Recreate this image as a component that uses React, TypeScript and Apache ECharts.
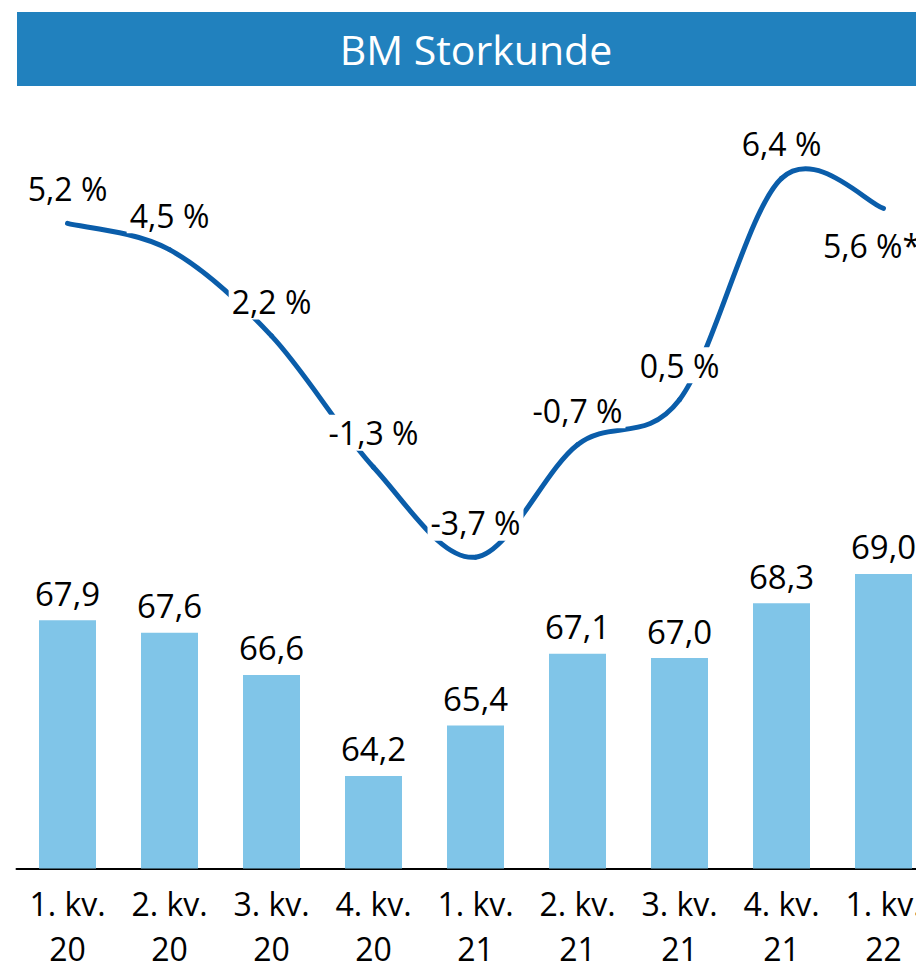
import React, { useEffect, useRef } from "react";
import * as echarts from "echarts";

const categories = [
  "1. kv.\n20",
  "2. kv.\n20",
  "3. kv.\n20",
  "4. kv.\n20",
  "1. kv.\n21",
  "2. kv.\n21",
  "3. kv.\n21",
  "4. kv.\n21",
  "1. kv.\n22",
];
const barValues = [67.9, 67.6, 66.6, 64.2, 65.4, 67.1, 67.0, 68.3, 69.0];
const growthValues = [5.2, 4.5, 2.2, -1.3, -3.7, -0.7, 0.5, 6.4, 5.6];
const growthNotes = ["", "", "", "", "", "", "", "", "*"];
const titleText = "BM Storkunde";

const FONT = "'Open Sans', 'Noto Sans', sans-serif";
const LINE_COLOR = "#0A5DAA";

export default function App() {
  const ref = useRef<HTMLDivElement>(null);
  useEffect(() => {
    if (!ref.current) return;
    const chart = echarts.init(ref.current, null, { renderer: "svg" });
    const n = growthValues.length;
    const last = n - 1;
    const clampIdx = (j: number) => Math.max(0, Math.min(n - 1, j));
    chart.setOption({
      animation: false,
      backgroundColor: "#ffffff",
      textStyle: { fontFamily: FONT },
      graphic: [
        {
          type: "rect",
          shape: { x: 17, y: 12, width: 921, height: 74 },
          style: { fill: "#2181BE" },
          z: 0,
        },
        {
          type: "text",
          x: 476,
          y: 49,
          style: {
            text: titleText,
            fill: "#ffffff",
            font: `41px ${FONT}`,
            align: "center",
            verticalAlign: "middle",
          },
          z: 1,
        },
      ],
      grid: {
        left: 16.5,
        width: 918,
        top: 100,
        height: 768.5,
        containLabel: false,
        outerBoundsMode: "none",
      },
      xAxis: {
        type: "category",
        data: categories,
        axisLine: { show: true, onZero: false, lineStyle: { color: "#000000", width: 2 } },
        axisTick: { show: false },
        splitLine: { show: false },
        axisLabel: {
          interval: 0,
          color: "#000000",
          margin: 2.5,
          fontFamily: FONT,
          formatter: (v: string) => {
            const [a, b] = v.split("\n");
            return `{a|${a}}\n{b|${b}}`;
          },
          rich: {
            a: { fontSize: 32, lineHeight: 64, color: "#000000", fontFamily: FONT },
            b: { fontSize: 32, lineHeight: 26, color: "#000000", fontFamily: FONT },
          },
        },
      },
      yAxis: [
        { type: "value", min: 62, max: 80.26, show: false, splitLine: { show: false } },
        { type: "value", min: -12, max: 8.49, show: false, splitLine: { show: false } },
      ],
      series: [
        {
          type: "bar",
          data: barValues,
          barWidth: 57,
          itemStyle: { color: "#80C5E8" },
          label: {
            show: true,
            position: "top",
            distance: 7,
            color: "#000000",
            fontSize: 33,
            lineHeight: 40,
            fontFamily: FONT,
            formatter: (p: any) => Number(p.value).toFixed(1).replace(".", ","),
          },
        },
        {
          type: "custom",
          coordinateSystem: "cartesian2d",
          yAxisIndex: 1,
          data: growthValues.map((v, i) => [i, v]),
          encode: { x: 0, y: 1 },
          z: 3,
          silent: true,
          renderItem: (params: any, api: any) => {
            const i = params.dataIndex;
            if (i >= n - 1) return { type: "group", children: [] };
            const p = (j: number) => {
              const k = clampIdx(j);
              return api.coord([k, growthValues[k]]);
            };
            const P0 = p(i - 1);
            const P1 = p(i);
            const P2 = p(i + 1);
            const P3 = p(i + 2);
            return {
              type: "bezierCurve",
              shape: {
                x1: P1[0],
                y1: P1[1],
                x2: P2[0],
                y2: P2[1],
                cpx1: P1[0] + (P2[0] - P0[0]) / 6,
                cpy1: P1[1] + (P2[1] - P0[1]) / 6,
                cpx2: P2[0] - (P3[0] - P1[0]) / 6,
                cpy2: P2[1] - (P3[1] - P1[1]) / 6,
              },
              style: { stroke: LINE_COLOR, lineWidth: 5, fill: null, lineCap: "round" },
            };
          },
        },
        {
          type: "line",
          yAxisIndex: 1,
          data: growthValues.map((v, i) =>
            i === last
              ? { value: v, label: { position: "bottom", distance: 19, offset: [-12, 0] } }
              : v
          ),
          symbol: "circle",
          symbolSize: 1,
          itemStyle: { color: "rgba(0,0,0,0)" },
          lineStyle: { color: LINE_COLOR, width: 0, opacity: 0 },
          z: 5,
          silent: true,
          label: {
            show: true,
            position: "top",
            distance: 16,
            color: "#000000",
            fontSize: 32,
            lineHeight: 36,
            fontFamily: FONT,
            backgroundColor: "#ffffff",
            padding: [0, 3],
            formatter: (p: any) =>
              Number(p.value).toFixed(1).replace(".", ",") + " %" + growthNotes[p.dataIndex],
          },
        },
      ],
    });
    return () => chart.dispose();
  }, []);
  return (
    <div
      style={{
        position: "fixed",
        left: 0,
        top: 0,
        width: 916,
        height: 963,
        overflow: "hidden",
      }}
    >
      <div ref={ref} style={{ width: 940, height: 963 }} />
    </div>
  );
}
